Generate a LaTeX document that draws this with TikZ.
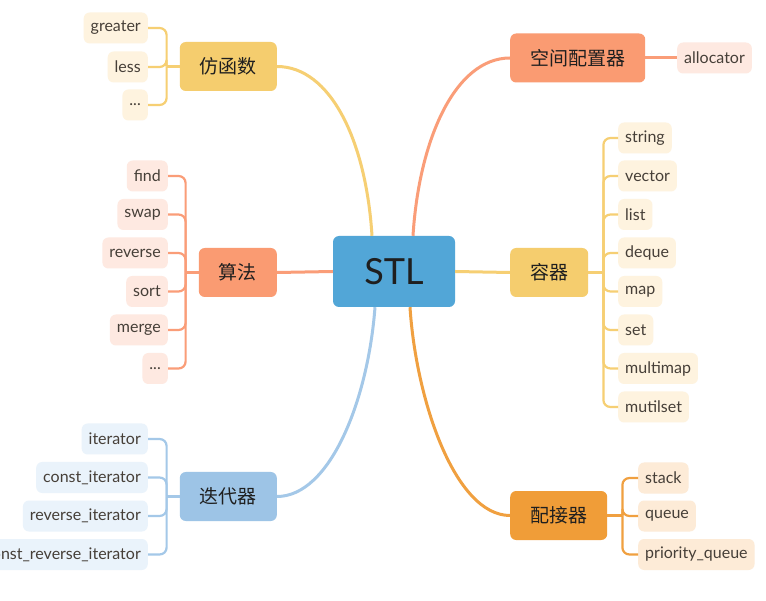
\documentclass[tikz,border=0pt]{standalone}
\usepackage{fontspec}
\setmainfont{Lato}
\newfontfamily\cjk{Noto Sans CJK SC}
\definecolor{stlblue}{HTML}{52A6D7}
\definecolor{yel}{HTML}{F5CD6E}
\definecolor{yelline}{HTML}{F6CF73}
\definecolor{yellight}{HTML}{FEF3DF}
\definecolor{sal}{HTML}{FA9B72}
\definecolor{salline}{HTML}{FA9D78}
\definecolor{sallight}{HTML}{FEE9E1}
\definecolor{blu}{HTML}{9DC4E6}
\definecolor{bluline}{HTML}{A4C8E8}
\definecolor{blulight}{HTML}{EAF3FB}
\definecolor{ora}{HTML}{F09D38}
\definecolor{oraline}{HTML}{F0A040}
\definecolor{oralight}{HTML}{FDEBD7}
\definecolor{leaftext}{HTML}{463F38}
\begin{document}
\begin{tikzpicture}[x=1pt,y=-1pt,
  rootbox/.style={rounded corners=6pt, fill=stlblue, minimum width=122pt, minimum height=71pt,
    font=\fontsize{36}{40}\selectfont, text=black!88},
  branchbox/.style={rounded corners=6pt, minimum height=49pt, inner xsep=20pt, inner ysep=0pt,
    font=\cjk\fontsize{19}{22}\selectfont, text=black!88},
  leafbox/.style={rounded corners=6pt, minimum height=31pt, inner xsep=7pt, inner ysep=0pt,
    font=\fontsize{16}{19}\selectfont, text=leaftext},
  mainline/.style={line width=3pt},
  subline/.style={line width=2.2pt, rounded corners=7pt}]
\useasboundingbox (0,0) rectangle (766,601);
\fill[white] (0,0) rectangle (766,601);

% root
\node[rootbox] (stl) at (394,271.5) {STL};

% branches
\node[branchbox, fill=yel, anchor=east] (fh) at (277,66.5) {仿函数};
\node[branchbox, fill=sal, anchor=east] (sf) at (277,272.5) {算法};
\node[branchbox, fill=blu, anchor=east] (dd) at (277,496.5) {迭代器};
\node[branchbox, fill=sal, anchor=west] (kj) at (510,58) {空间配置器};
\node[branchbox, fill=yel, anchor=west] (rq) at (510,272.5) {容器};
\node[branchbox, fill=ora, anchor=west] (pj) at (510,515.5) {配接器};

% main connectors
\coordinate (tl) at ([xshift=-22pt]stl.north);
\coordinate (tr) at ([xshift=19pt]stl.north);
\coordinate (bl) at ([xshift=-19pt]stl.south);
\coordinate (br) at ([xshift=16pt]stl.south);
\draw[mainline, yelline] (tl) .. controls +(-6,-96) and +(53,0) .. (fh.east);
\draw[mainline, salline] (tr) .. controls +(6,-96) and +(-55,0) .. (kj.west);
\draw[mainline, bluline] (bl) .. controls +(-7,93) and +(53,0) .. (dd.east);
\draw[mainline, oraline] (br) .. controls +(6,93) and +(-55,0) .. (pj.west);
\draw[mainline, salline] (stl.west) -- (sf.east);
\draw[mainline, yelline] (stl.east) -- (rq.west);

% leaves: 仿函数
\begin{scope}[every node/.style={leafbox, fill=yellight, anchor=east}]
\node (f1) at (148,28) {greater};
\node (f2) at (148,67) {less};
\node (f3) at (148,105) {...};
\end{scope}
\coordinate (fj) at ([xshift=-13pt]fh.west);
\draw[subline, yelline] (fh.west) -- (fj);
\foreach \c in {f1,f2,f3} \draw[subline, yelline] (fj) |- (\c.east);

% leaves: 算法
\begin{scope}[every node/.style={leafbox, fill=sallight, anchor=east}]
\node (s1) at (168,176) {find};
\node (s2) at (168,214.5) {swap};
\node (s3) at (168,253) {reverse};
\node (s4) at (168,291.5) {sort};
\node (s5) at (168,330) {merge};
\node (s6) at (168,368.5) {...};
\end{scope}
\coordinate (sj) at ([xshift=-13pt]sf.west);
\draw[subline, salline] (sf.west) -- (sj);
\foreach \c in {s1,s2,s3,s4,s5,s6} \draw[subline, salline] (sj) |- (\c.east);

% leaves: 迭代器
\begin{scope}[every node/.style={leafbox, fill=blulight, anchor=east}]
\node (d1) at (148,439) {iterator};
\node (d2) at (148,477.5) {const\_iterator};
\node (d3) at (148,516) {reverse\_iterator};
\node (d4) at (148,554.5) {const\_reverse\_iterator};
\end{scope}
\coordinate (dj) at ([xshift=-13pt]dd.west);
\draw[subline, bluline] (dd.west) -- (dj);
\foreach \c in {d1,d2,d3,d4} \draw[subline, bluline] (dj) |- (\c.east);

% leaf: 空间配置器
\node[leafbox, fill=sallight, anchor=west] (k1) at (677,58) {allocator};
\draw[mainline, salline] (kj.east) -- (k1.west);

% leaves: 容器
\begin{scope}[every node/.style={leafbox, fill=yellight, anchor=west}]
\node (r1) at (618,138) {string};
\node (r2) at (618,176) {vector};
\node (r3) at (618,214.5) {list};
\node (r4) at (618,253) {deque};
\node (r5) at (618,291.5) {map};
\node (r6) at (618,330) {set};
\node (r7) at (618,368.5) {multimap};
\node (r8) at (618,407) {mutilset};
\end{scope}
\coordinate (rj) at ([xshift=15pt]rq.east);
\draw[subline, yelline] (rq.east) -- (rj);
\foreach \c in {r1,r2,r3,r4,r5,r6,r7,r8} \draw[subline, yelline] (rj) |- (\c.west);

% leaves: 配接器
\begin{scope}[every node/.style={leafbox, fill=oralight, anchor=west}]
\node (p1) at (638,478) {stack};
\node (p2) at (638,516) {queue};
\node (p3) at (638,554.5) {priority\_queue};
\end{scope}
\coordinate (pj2) at ([xshift=15pt]pj.east);
\draw[subline, oraline] (pj.east) -- (pj2);
\foreach \c in {p1,p2,p3} \draw[subline, oraline] (pj2) |- (\c.west);
\end{tikzpicture}
\end{document}
